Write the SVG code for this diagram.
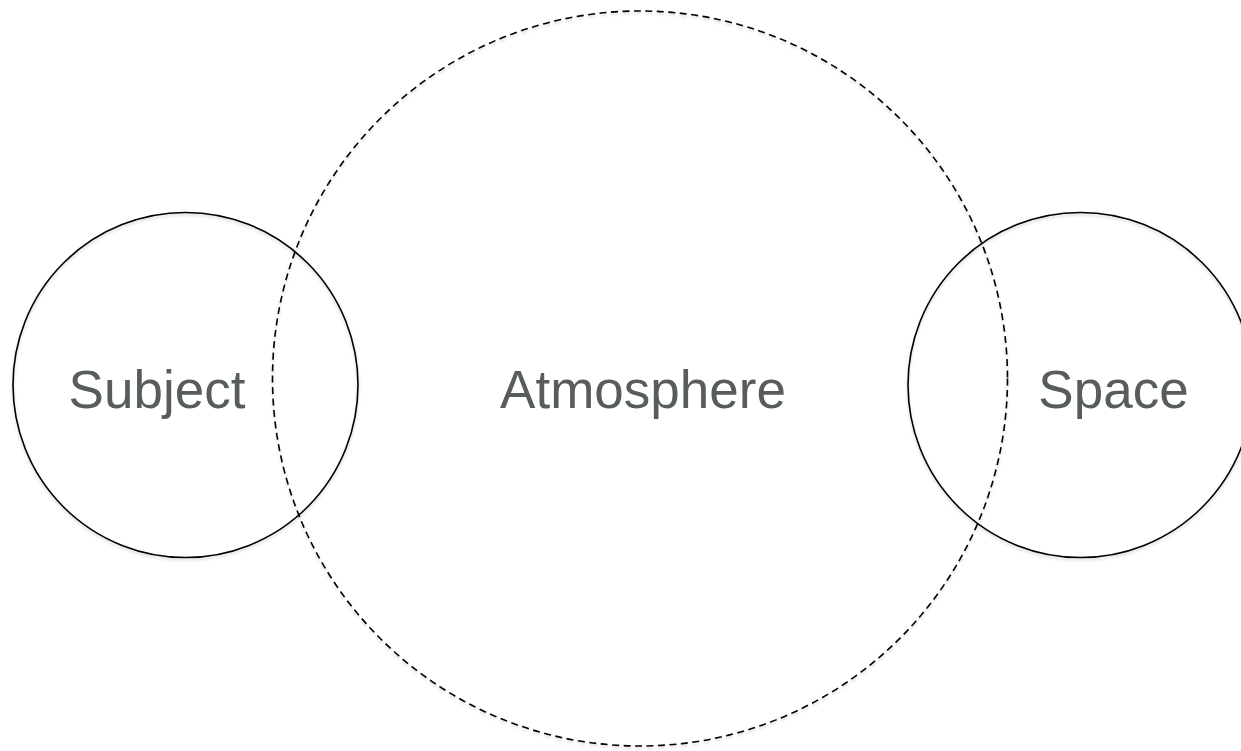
<svg xmlns="http://www.w3.org/2000/svg" width="1241" height="751" viewBox="0 0 1241 751">
  <defs>
    <filter id="sh" x="-10%" y="-10%" width="120%" height="120%">
      <feDropShadow dx="0" dy="2" stdDeviation="1.5" flood-color="#000" flood-opacity="0.18"/>
    </filter>
    <style>
      .ring { fill: none; stroke: #000; stroke-width: 1.6; }
      .dash { fill: none; stroke: #000; stroke-width: 1.6; stroke-dasharray: 7 4.5; }
      .lbl { font-family: "Liberation Sans", Arial, sans-serif; font-size: 53px; fill: #575c5f; text-anchor: middle; }
    </style>
  </defs>
  <rect width="1241" height="751" fill="#fff"/>
  <g id="atmosphere">
    <circle class="dash" cx="640" cy="378.5" r="367.5" filter="url(#sh)"/>
    <text class="lbl" x="643" y="407.5">Atmosphere</text>
  </g>
  <g id="subject">
    <circle class="ring" cx="185.5" cy="385" r="172.5" filter="url(#sh)"/>
    <text class="lbl" x="157" y="408">Subject</text>
  </g>
  <g id="space">
    <circle class="ring" cx="1080.5" cy="385" r="172.5" filter="url(#sh)"/>
    <text class="lbl" x="1113.5" y="408">Space</text>
  </g>
  <g id="connectors"/>
</svg>
